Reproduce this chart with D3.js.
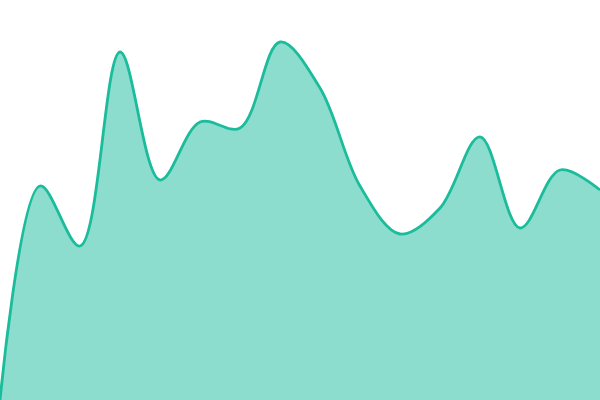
<!doctype html>
<html>
  <head>
    <script src="https://d3js.org/d3.v7.min.js"></script>
    <style>
      body { margin: 0; background: #fff; }
      svg { display: block; }
    </style>
  </head>
  <body>
    <svg class="chart" width=600 height=400></svg>
    <script>
      // one value per step along the x axis
      var steps = [0,1,2,3,4,5,6,7,8,9,10,11,12,13,14,15];
      var values = [0,53.5,38.5,87,55,69.5,68,89.5,78,53.5,41.5,48,65.8,43,57.5,52.5];

      var svg = d3.select("svg"),
        width = +svg.attr("width"),
        height = +svg.attr("height");

      var data = steps.map(function(s, i){ return {x: s, y: values[i]}; });

      var xScale = d3.scaleLinear().domain([0, 15]).range([0, width]);
      var yScale = d3.scaleLinear().domain([0, 100]).range([height, 0]);

      var area = d3.area()
        .curve(d3.curveCatmullRom)
        .x(function(d){ return xScale(d.x); })
        .y0(height)
        .y1(function(d){ return yScale(d.y); });

      var line = d3.line()
        .curve(d3.curveCatmullRom)
        .x(function(d){ return xScale(d.x); })
        .y(function(d){ return yScale(d.y); });

      svg.append("path")
        .datum(data)
        .attr("d", area)
        .attr("fill", "#1abc9c")
        .attr("fill-opacity", 0.5);

      svg.append("path")
        .datum(data)
        .attr("d", line)
        .attr("fill", "none")
        .attr("stroke", "#1abc9c")
        .attr("stroke-width", 2.8);
    </script>
  </body>
</html>
